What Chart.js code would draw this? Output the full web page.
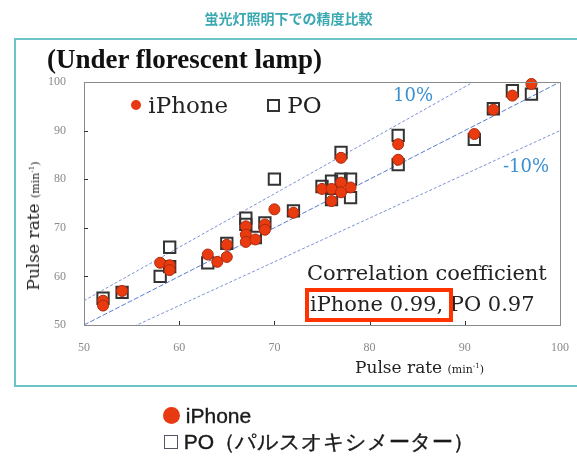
<!DOCTYPE html>
<html>
<head>
<meta charset="utf-8">
<script src="https://cdn.jsdelivr.net/npm/chart.js@4.4.1/dist/chart.umd.min.js"></script>
<style>
    html, body { margin: 0; padding: 0; background: #fff; }
    body { width: 577px; height: 456px; position: relative; overflow: hidden; }
    #chart { position: absolute; left: 0; top: 0; }
    .txt { position: absolute; white-space: nowrap; z-index: 2; }
    .serif { font-family: "DejaVu Serif", serif; }
    #head { left: 0; width: 577px; top: 8px; text-align: center; color: #3aa9b1;
        font: bold 14px "Noto Sans CJK JP", sans-serif; }
    #frame { position: absolute; left: 14px; top: 38px; width: 580px; height: 349px;
        border: 2px solid #6cc4c8; box-sizing: border-box; }
    #sub { left: 47px; top: 44px; font: bold 27px "Liberation Serif", serif; color: #111; }
    .dot { display: inline-block; border-radius: 50%; background: #e83a12; }
    .sq { display: inline-block; box-sizing: border-box; }
    .note { color: #3a8fd0; font-size: 18px; }
    #redbox { position: absolute; left: 305px; top: 288px; width: 148px; height: 34px;
        border: 4px solid #ff3300; box-sizing: border-box; z-index: 3; }
    .bottom { font: 21px "Liberation Sans", sans-serif; color: #1a1a1a; -webkit-text-stroke: 0.4px #1a1a1a; }
</style>
</head>
<body>
<div id="frame"></div>
<div class="txt" id="head">蛍光灯照明下での精度比較</div>
<div class="txt" id="sub">(Under florescent lamp)</div>
<canvas id="chart" width="577" height="456"></canvas>

<!-- legend inside plot -->
<div class="txt serif" style="left:131px; top:92px; font-size:23px; color:#222;">
    <span class="dot" style="width:10px;height:10px;vertical-align:3px;"></span>&nbsp;iPhone
</div>
<div class="txt serif" style="left:267px; top:92px; font-size:23px; color:#222;">
    <span class="sq" style="width:13px;height:13px;border:2px solid #333;vertical-align:1px;"></span>&nbsp;PO
</div>

<div class="txt serif note" style="left:393px; top:84px;">10%</div>
<div class="txt serif note" style="left:503px; top:155px;">-10%</div>

<div class="txt serif" style="left:307px; top:261px; font-size:21px; color:#222;">Correlation coefficient</div>
<div class="txt serif" style="left:310px; top:292px; font-size:21px; color:#222;">iPhone 0.99, PO 0.97</div>
<div id="redbox"></div>

<!-- axis titles -->
<div class="txt serif" style="left:355px; top:357px; font-size:17px; color:#222;">
    Pulse rate <span style="font-size:11px;">(min<sup style="font-size:7px;">-1</sup>)</span>
</div>
<div class="txt serif" style="left:33px; top:226px; font-size:17px; color:#222; transform: translate(-50%, -50%) rotate(-90deg);">
    Pulse rate <span style="font-size:11px;">(min<sup style="font-size:7px;">-1</sup>)</span>
</div>

<!-- legend below frame -->
<div class="txt bottom" style="left:163px; top:404px;">
    <span class="dot" style="width:17px;height:17px;vertical-align:-1px;"></span> iPhone
</div>
<div class="txt bottom" style="left:164px; top:428px;">
    <span class="sq" style="width:14px;height:14px;border:1px solid #556;vertical-align:0px;"></span>
    PO（パルスオキシメーター）
</div>

<script>
// Pulse rate readings (min-1): reference device on x, measured device on y
const iphoneX = [52, 52, 54, 58, 59, 59, 63, 64, 65, 65, 67, 67, 67, 68, 69, 69, 70, 72,
    75, 76, 77, 77, 78, 76, 77, 83, 83, 91, 93, 95, 97];
const iphoneY = [55, 54, 57, 62.8, 62.3, 61.3, 64.5, 63, 66.5, 64, 70.3, 68.6, 67.1, 67.6, 70.7, 69.6, 73.8, 73.1,
    78, 78, 79.3, 77.3, 78.3, 75.5, 84.4, 87.2, 84, 89.3, 94.3, 97.2, 99.6];

const poX = [52, 54, 59, 58, 59, 63, 65, 67, 67, 68, 69, 70, 72,
    75, 76, 77, 78, 78, 76, 77, 83, 83, 91, 93, 95, 97];
const poY = [55.5, 56.7, 66, 60, 62, 62.8, 66.8, 72, 70.7, 68, 71, 80, 73.5,
    78.5, 79.6, 80, 80, 76.2, 75.8, 85.5, 89, 83, 88.2, 94.5, 98.2, 97.5];

// identity line and the +/-10% lines
const refFactors = [1, 1.1, 0.9];
const refRange = [50, 100];

const toPoints = (xs, ys) => xs.map((x, i) => ({ x: x, y: ys[i] }));

const refSets = refFactors.map((f, i) => ({
    label: 'ref' + i,
    data: refRange.map(x => ({ x: x, y: x * f })),
    showLine: true,
    pointRadius: 0,
    borderColor: i === 0 ? 'rgba(60,100,200,0.85)' : 'rgba(80,110,200,0.75)',
    borderWidth: 1,
    borderDash: i === 0 ? [5, 2] : [3, 2],
    order: 3
}));

// plot frame + inward tick marks
const framePlugin = {
    id: 'frame',
    afterDraw(chart) {
        const { ctx, chartArea: a, scales } = chart;
        ctx.save();
        ctx.strokeStyle = '#8a8a8a';
        ctx.lineWidth = 1;
        ctx.strokeRect(a.left + 0.5, a.top + 0.5, a.right - a.left, a.bottom - a.top);
        ctx.strokeStyle = '#333';
        for (let v = 60; v <= 90; v += 10) {
            const y = Math.round(scales.y.getPixelForValue(v)) + 0.5;
            ctx.beginPath(); ctx.moveTo(a.left, y); ctx.lineTo(a.left + 4, y); ctx.stroke();
            const x = Math.round(scales.x.getPixelForValue(v)) + 0.5;
            ctx.beginPath(); ctx.moveTo(x, a.bottom); ctx.lineTo(x, a.bottom - 4); ctx.stroke();
        }
        ctx.restore();
    }
};

const tickFont = { family: 'Liberation Serif', size: 12 };

new Chart(document.getElementById('chart'), {
    type: 'scatter',
    data: {
        datasets: [
            {
                label: 'iPhone',
                data: toPoints(iphoneX, iphoneY),
                pointStyle: 'circle',
                pointRadius: 5.5,
                backgroundColor: '#ea3b10',
                borderColor: '#b02a0a',
                borderWidth: 1,
                clip: false,
                order: 1
            },
            {
                label: 'PO',
                data: toPoints(poX, poY),
                pointStyle: 'rect',
                pointRadius: 8,
                backgroundColor: 'rgba(255,255,255,0)',
                borderColor: '#333',
                borderWidth: 2,
                clip: false,
                order: 2
            },
            ...refSets
        ]
    },
    options: {
        responsive: false,
        animation: false,
        devicePixelRatio: 1,
        layout: { padding: { left: 40, top: 82, right: 14, bottom: 91 } },
        plugins: { legend: { display: false }, tooltip: { enabled: false } },
        scales: {
            x: {
                min: 50, max: 100,
                ticks: { stepSize: 10, color: '#8a8a8a', font: tickFont, padding: 8 },
                grid: { display: false },
                border: { display: false },
                afterFit: s => { s.height = 40; }
            },
            y: {
                min: 50, max: 100,
                ticks: { stepSize: 10, color: '#8a8a8a', font: tickFont, padding: 10 },
                grid: { display: false },
                border: { display: false },
                afterFit: s => { s.width = 44; }
            }
        }
    },
    plugins: [framePlugin]
});
</script>
</body>
</html>
